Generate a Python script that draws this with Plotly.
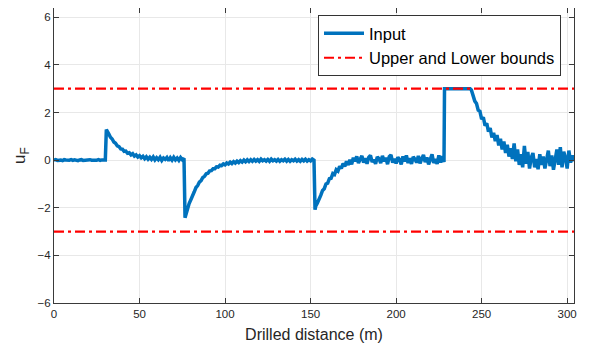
import plotly.graph_objects as go

# ---- data ----
# segment A: 0..30 m (1 m steps)
dist_a = list(range(0, 31))
u_a = [0.00, 0.02, -0.01, 0.01, 0.00, -0.02, 0.02, 0.01, -0.01, 0.00, 0.02, -0.01, 0.01, 0.00, -0.02,
       0.01, 0.02, -0.01, 0.00, 0.01, -0.01, 0.02, 0.00, -0.01, 0.01, 0.00, 0.02, -0.01, 0.01, 0.00, 0.01]

# step up
dist_j1 = [30.6]
u_j1 = [1.28]

# segment B: 31..76 m
dist_b = list(range(31, 77))
u_b = [1.20, 1.10, 0.96, 0.89, 0.76, 0.71, 0.60, 0.57, 0.47, 0.46, 0.37, 0.38, 0.29, 0.31, 0.22, 0.27,
       0.17, 0.22, 0.13, 0.19, 0.10, 0.16, 0.06, 0.14, 0.04, 0.12, 0.03, 0.13, 0.01, 0.10, 0.02, 0.12,
       -0.01, 0.09, 0.03, 0.11, -0.02, 0.10, 0.00, 0.12, 0.01, 0.09, -0.01, 0.11, 0.02, 0.08]

# step down
dist_j2 = [76.6]
u_j2 = [-2.42]

# segment C: 77..152 m
dist_c = list(range(77, 153))
u_c = [-2.30, -2.06, -1.82, -1.66, -1.45, -1.33, -1.15, -1.07, -0.92, -0.86, -0.73, -0.68, -0.57, -0.55,
       -0.45, -0.44, -0.36, -0.36, -0.28, -0.29, -0.21, -0.23, -0.16, -0.20, -0.12, -0.16, -0.08, -0.14,
       -0.06, -0.12, -0.04, -0.10, -0.02, -0.08, 0.00, -0.07, 0.01, -0.06, 0.02, -0.05, 0.03, -0.04,
       0.02, -0.05, 0.04, -0.03, 0.02, -0.04, 0.03, -0.05, 0.04, -0.03, 0.02, -0.04, 0.03, -0.05, 0.02,
       -0.03, 0.04, -0.04, 0.03, -0.05, 0.02, -0.03, 0.04, -0.04, 0.02, -0.05, 0.03, -0.03, 0.04, -0.04,
       0.02, -0.03, 0.05, 0.00]

# step down
dist_j3 = [152.6]
u_j3 = [-2.08]

# segment D: 153..228 m
dist_d = list(range(153, 229))
u_d = [-1.93, -1.80, -1.58, -1.47, -1.27, -1.20, -1.00, -0.97, -0.78, -0.76, -0.56, -0.60, -0.40, -0.46,
       -0.26, -0.35, -0.14, -0.26, -0.05, -0.20,
       0.02, -0.18, 0.10, -0.05, 0.16, -0.12, 0.04, 0.18, -0.10, 0.08, -0.15, 0.12, 0.20, -0.08, 0.02,
       -0.16, 0.14, 0.06, -0.12, 0.18, -0.04, 0.10, -0.17, 0.15, 0.22, -0.10, 0.05, -0.14, 0.12, 0.02,
       -0.18, 0.16, -0.06, 0.20, -0.12, 0.08, -0.16, 0.14, 0.04, -0.10, 0.18, -0.14, 0.06, 0.22, -0.08,
       0.12, -0.18, 0.10, 0.24, -0.12, 0.04, -0.16, 0.20, -0.10, 0.16, -0.08]

# saturated segment at the upper bound
dist_sat = [228.3, 229, 230, 231, 232, 233, 234, 235, 236, 237, 238, 239, 240, 241, 242, 243, 243.3]
u_sat = [3.0] * len(dist_sat)

# segment E: 244..304 m
dist_e = list(range(244, 305))
u_e = [2.95, 2.70, 2.48, 2.38, 2.10, 2.05, 1.72, 1.80, 1.45, 1.55, 1.20, 1.35, 0.95, 1.15, 0.80, 1.05,
       0.62, 0.90, 0.45, 0.78, 0.30, 0.65, 0.15, 0.50, 0.05, 0.70, -0.05, 0.45, -0.20, 0.25, -0.30, 0.60,
       -0.15, 0.35, -0.35, 0.10, 0.30, -0.30, 0.05, -0.38, 0.25, -0.20, 0.15, -0.35, 0.10, 0.40, -0.25,
       0.20, -0.40, 0.05, 0.45, -0.20, 0.55, -0.30, 0.35, 0.10, -0.35, 0.40, -0.10, 0.20, -0.05]

dist = dist_a + dist_j1 + dist_b + dist_j2 + dist_c + dist_j3 + dist_d + dist_sat + dist_e
u_input = u_a + u_j1 + u_b + u_j2 + u_c + u_j3 + u_d + u_sat + u_e

upper_bound = 3
lower_bound = -3
bound_x = [0, 304]

x_ticks = [0, 50, 100, 150, 200, 250, 300]
y_ticks = [-6, -4, -2, 0, 2, 4, 6]

FONT = "Liberation Sans, Arial, Helvetica, sans-serif"
AX = "#3a3a3a"

fig = go.Figure()
fig.add_trace(go.Scatter(x=dist, y=u_input, mode="lines", name="Input",
                         line=dict(color="#0072BD", width=3.5)))
fig.add_trace(go.Scatter(x=bound_x + [None] + bound_x,
                         y=[upper_bound, upper_bound, None, lower_bound, lower_bound],
                         mode="lines", name="Upper and Lower bounds",
                         line=dict(color="#FF0000", width=2.2, dash="10px,4px,3px,4px")))

axis_common = dict(showline=True, linecolor=AX, linewidth=1, mirror="ticks",
                   ticks="inside", ticklen=5, tickcolor=AX, tickwidth=1, automargin=False,
                   showgrid=True, gridcolor="#e8e8e8", gridwidth=1, zeroline=False,
                   tickfont=dict(family=FONT, size=11.5, color="#262626"))

fig.update_xaxes(range=[0, 304], tickvals=x_ticks,
                 title=dict(text="Drilled distance (m)", font=dict(family=FONT, size=16, color="#262626"),
                            standoff=10),
                 **axis_common)
fig.update_yaxes(range=[-6, 6.39], tickvals=y_ticks,
                 title=dict(text="u<sub>F</sub>", font=dict(family=FONT, size=17, color="#262626"),
                            standoff=7),
                 **axis_common)

fig.update_layout(
    width=582, height=337,
    margin=dict(l=46, r=16, t=0, b=42),
    plot_bgcolor="white", paper_bgcolor="white",
    showlegend=True,
    legend=dict(x=0.975, y=0.976, xanchor="right", yanchor="top",
                bgcolor="white", bordercolor="#333333", borderwidth=1,
                font=dict(family=FONT, size=16.5, color="#000000"),
                tracegroupgap=0, itemwidth=40),
)

fig.write_html("out.html")
